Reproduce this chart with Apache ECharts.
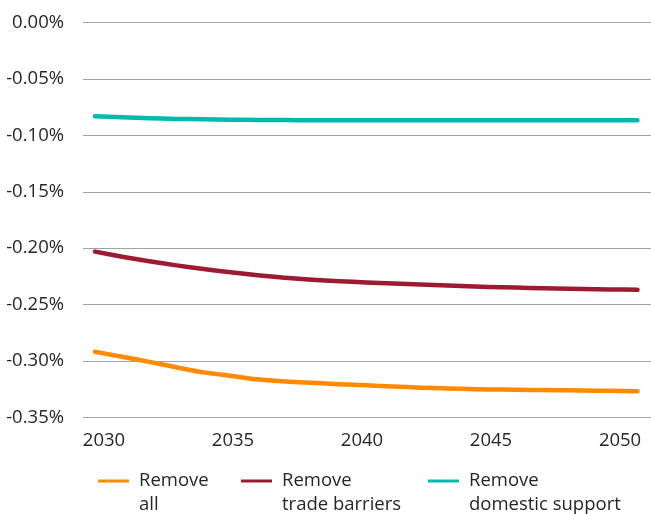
<!DOCTYPE html>
<html>
<head>
<meta charset="utf-8">
<script src="https://cdn.jsdelivr.net/npm/echarts@6/dist/echarts.min.js"></script>
<style>
  html, body { margin: 0; padding: 0; background: #fff; }
  #chart { width: 651px; height: 514px; }
</style>
</head>
<body>
<div id="chart"></div>
<script>
// Years on the horizontal axis
const years = [2030, 2031, 2032, 2033, 2034, 2035, 2036, 2037, 2038, 2039, 2040,
               2041, 2042, 2043, 2044, 2045, 2046, 2047, 2048, 2049, 2050];

// Change relative to baseline, in percent
const removeAll = [-0.2917, -0.2962, -0.3007, -0.3055, -0.3100, -0.3130, -0.3162, -0.3180,
                   -0.3193, -0.3205, -0.3215, -0.3225, -0.3236, -0.3242, -0.3250, -0.3253,
                   -0.3256, -0.3258, -0.3261, -0.3264, -0.3267];
const removeTradeBarriers = [-0.2030, -0.2075, -0.2115, -0.2152, -0.2185, -0.2213, -0.2240,
                             -0.2262, -0.2280, -0.2292, -0.2303, -0.2313, -0.2322, -0.2331,
                             -0.2339, -0.2346, -0.2352, -0.2357, -0.2361, -0.2365, -0.2369];
const removeDomesticSupport = [-0.0831, -0.0840, -0.0848, -0.0854, -0.0858, -0.0861, -0.0863,
                               -0.0865, -0.0866, -0.0867, -0.0867, -0.0867, -0.0867, -0.0867,
                               -0.0867, -0.0866, -0.0866, -0.0866, -0.0866, -0.0866, -0.0867];

// Tick labels
const xTickYears = [2030, 2035, 2040, 2045, 2050];
const yMin = -0.35, yMax = 0, yStep = 0.05;

const seriesNames = ['Remove\nall', 'Remove\ntrade barriers', 'Remove\ndomestic support'];
const seriesData = [removeAll, removeTradeBarriers, removeDomesticSupport];
const colors = ['#ff8a00', '#9c1b32', '#00bab0'];

const FONT = "'Open Sans', 'Noto Sans', sans-serif";
const TEXT = '#262626';
const GRID = '#a3a3a3';
const FS = 18.5;

const chart = echarts.init(document.getElementById('chart'), null, { renderer: 'canvas' });

const legendLefts = [98, 241, 428];

const option = {
  backgroundColor: '#ffffff',
  animation: false,
  color: colors,
  textStyle: { fontFamily: FONT },
  grid: { left: 83, right: 0, top: 22.5, bottom: 96.5, containLabel: false },
  legend: seriesNames.map((name, i) => ({
    data: [{ name: name, icon: 'rect' }],
    left: legendLefts[i],
    top: 445,
    padding: 0,
    itemWidth: 31,
    itemHeight: 3,
    selectedMode: false,
    // blank leading line keeps the key level with the first text line
    formatter: n => '\n' + n,
    textStyle: {
      fontFamily: FONT,
      fontSize: FS,
      color: TEXT,
      lineHeight: 24,
      padding: [0, 0, 0, 5]
    }
  })),
  xAxis: [
    {
      // scale for the plotted lines
      type: 'value',
      min: 2029.558,
      max: 2050.498,
      axisLine: { show: false },
      axisTick: { show: false },
      axisLabel: { show: false },
      splitLine: { show: false }
    },
    {
      // year labels under the plot
      type: 'value',
      position: 'bottom',
      min: 2029.186,
      max: 2051.2,
      axisLine: { show: false },
      axisTick: { show: false },
      splitLine: { show: false },
      axisLabel: {
        customValues: xTickYears,
        margin: 14,
        fontFamily: FONT,
        fontSize: FS,
        color: TEXT,
        formatter: v => String(Math.round(v))
      }
    }
  ],
  yAxis: {
    type: 'value',
    min: yMin,
    max: yMax,
    interval: yStep,
    axisLine: { show: false },
    axisTick: { show: false },
    axisLabel: {
      margin: 19,
      fontFamily: FONT,
      fontSize: FS,
      color: TEXT,
      formatter: v => (Math.abs(v) < 1e-9 ? 0 : v).toFixed(2) + '%'
    },
    splitLine: { show: true, lineStyle: { color: GRID, width: 1 } }
  },
  series: seriesNames.map((name, i) => ({
    name: name,
    type: 'line',
    xAxisIndex: 0,
    data: years.map((y, k) => [y, seriesData[i][k]]),
    showSymbol: false,
    smooth: 0.2,
    lineStyle: { width: 4.5, color: colors[i], cap: 'round', join: 'round' },
    itemStyle: { color: colors[i] },
    emphasis: { disabled: true }
  }))
};

chart.setOption(option);
</script>
</body>
</html>
